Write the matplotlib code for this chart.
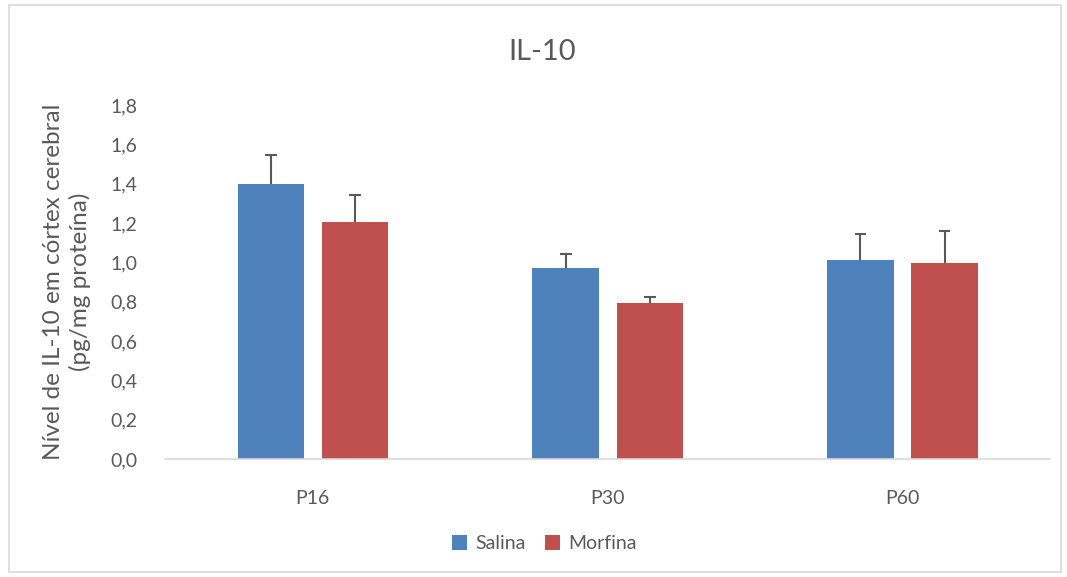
import matplotlib
matplotlib.use("Agg")
import matplotlib.pyplot as plt
import numpy as np
from matplotlib.patches import Rectangle

# --- data ---
categories = ["P16", "P30", "P60"]
salina = [1.40, 0.97, 1.01]
salina_err = [0.145, 0.07, 0.135]
morfina = [1.205, 0.795, 0.995]
morfina_err = [0.135, 0.03, 0.165]
yticks = [0.0, 0.2, 0.4, 0.6, 0.8, 1.0, 1.2, 1.4, 1.6, 1.8]

BLUE = "#4F81BD"
RED = "#C0504D"
GREY_TXT = "#595959"

plt.rcParams['font.family'] = ['Lato', 'DejaVu Sans']

fig = plt.figure(figsize=(10.67, 5.77), dpi=100)
ax = fig.add_axes([0.155, 0.2045, 0.829, 0.6135])

x = np.arange(len(categories))
w = 0.225
off = w / 2 + 0.03
ax.bar(x - off, salina, w, color=BLUE, label="Salina")
ax.bar(x + off, morfina, w, color=RED, label="Morfina")

# upper-only error bars (no cap at the bar top)
cap = 0.02
for xs, vals, errs in [(x - off, salina, salina_err), (x + off, morfina, morfina_err)]:
    tops = np.array(vals) + np.array(errs)
    ax.vlines(xs, vals, tops, color="#595959", linewidth=1.5)
    ax.hlines(tops, xs - cap, xs + cap, color="#595959", linewidth=1.5)

ax.set_xlim(-0.5, 2.5)
ax.set_ylim(0, 1.8)
ax.set_yticks(yticks)
ax.set_yticklabels([f"{v:.1f}".replace(".", ",") for v in yticks])
ax.set_xticks(x)
ax.set_xticklabels(categories)
ax.tick_params(length=0, labelsize=14, colors=GREY_TXT)
ax.tick_params(axis='y', pad=20)
ax.tick_params(axis='x', pad=22)

for s in ["top", "right", "left"]:
    ax.spines[s].set_visible(False)
ax.spines["bottom"].set_color("#D9D9D9")
ax.spines["bottom"].set_linewidth(1.2)

ax.set_ylabel("Nível de IL-10 em córtex cerebral\n(pg/mg proteína)",
              fontsize=17.5, color=GREY_TXT, labelpad=14, linespacing=1.25)

fig.text(0.508, 0.91, "IL-10", ha="center", va="center", fontsize=21, color=GREY_TXT)

leg = fig.legend(loc="center", bbox_to_anchor=(0.51, 0.058), ncol=2, frameon=False,
                 fontsize=14, handlelength=0.8, handleheight=0.8,
                 handletextpad=0.4, columnspacing=1.0)
for t in leg.get_texts():
    t.set_color(GREY_TXT)

# chart-area border
fig.patches.append(Rectangle((0.008, 0.008), 0.986, 0.984, transform=fig.transFigure,
                             fill=False, edgecolor="#D9D9D9", linewidth=1.2))

fig.savefig("out.png", dpi=100)
